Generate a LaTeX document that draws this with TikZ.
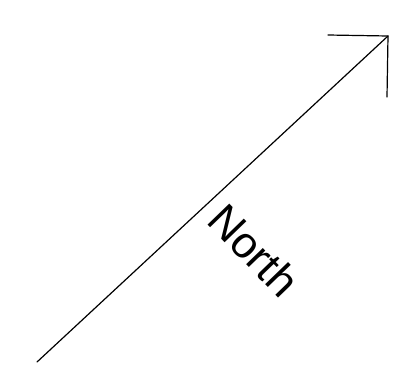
\documentclass[tikz,border=0pt]{standalone}
\usepackage{fontspec}
\setmainfont{Liberation Sans}
\begin{document}
\begin{tikzpicture}[x=1pt,y=-1pt,
  conn/.style={line width=1.2pt, line cap=round, line join=miter},
  lbl/.style={font=\fontsize{44}{52}\selectfont, inner sep=0pt, rotate=-46}]
\useasboundingbox (0,0) rectangle (407,383);
\coordinate (start) at (37,362);
\coordinate (tip) at (388,36);
\coordinate (armA) at (328,35);
\coordinate (armB) at (387,97);
\draw[conn] (start) -- (tip);
\draw[conn] (armA) -- (tip) -- (armB);
\node[lbl] (north) at (254,250) {North};
\end{tikzpicture}
\end{document}
